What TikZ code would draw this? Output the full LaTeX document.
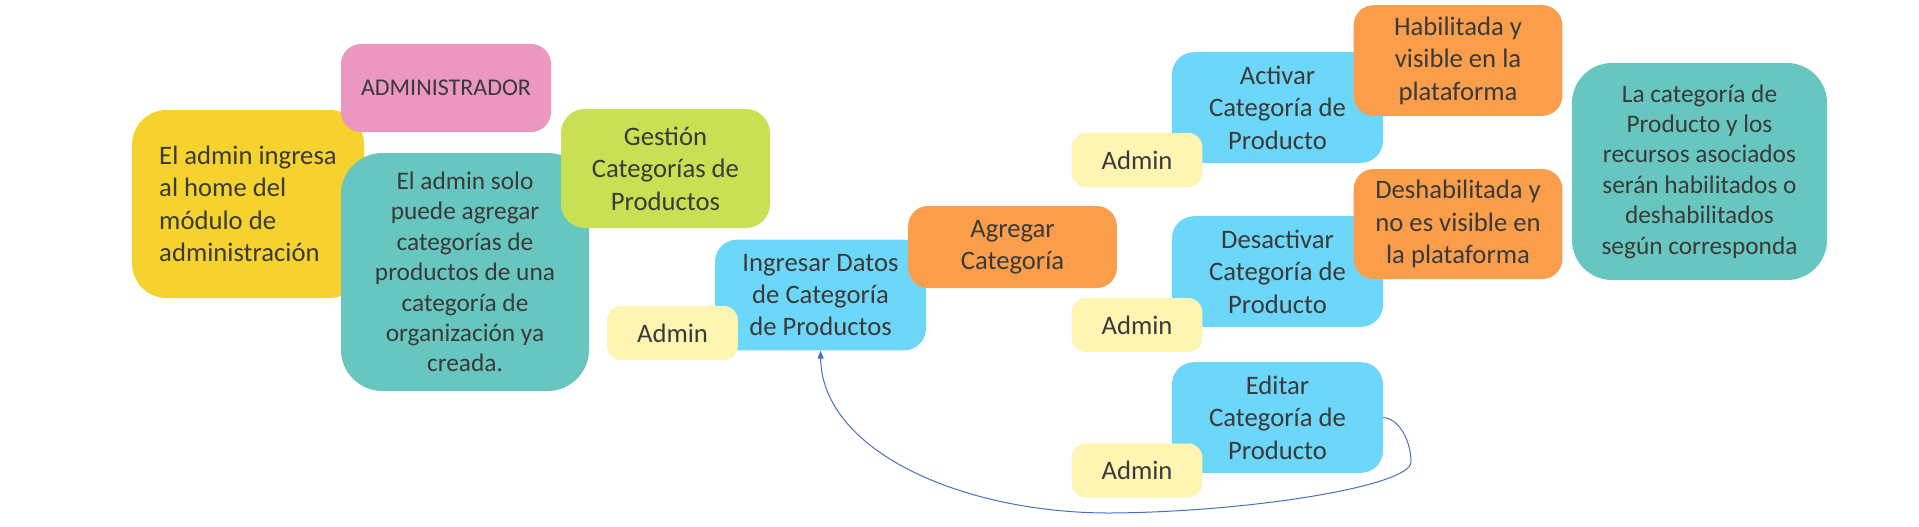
\documentclass[tikz,border=0pt]{standalone}
\usepackage{fontspec}
\setmainfont{Carlito}
\usetikzlibrary{arrows.meta}
\definecolor{yellowc}{HTML}{F5D22E}
\definecolor{pinkc}{HTML}{EB97C0}
\definecolor{tealc}{HTML}{67C6BF}
\definecolor{greenc}{HTML}{C9E055}
\definecolor{bluec}{HTML}{6DD7F9}
\definecolor{orangec}{HTML}{FB9E4B}
\definecolor{adminc}{HTML}{FDF5B1}
\definecolor{textc}{HTML}{3A3A3A}
\definecolor{linec}{HTML}{4A6EBD}
\tikzset{
  box/.style={rectangle, draw=none, inner sep=0pt, align=center, text=textc,
    font=\fontsize{20}{24.3}\selectfont},
  yellowbox/.style={box, fill=yellowc, rounded corners=26pt, minimum width=174pt, minimum height=141pt,
    align=left},
  pinkbox/.style={box, fill=pinkc, rounded corners=15pt, minimum width=157.5pt, minimum height=66pt,
    font=\fontsize{18}{21.6}\selectfont},
  tealbox/.style={box, fill=tealc, rounded corners=31pt, font=\fontsize{19}{22.8}\selectfont},
  greenbox/.style={box, fill=greenc, rounded corners=18pt, minimum width=156.75pt, minimum height=89.25pt},
  bluebox/.style={box, fill=bluec, rounded corners=16.5pt, minimum width=158.25pt, minimum height=83pt},
  orangebox/.style={box, fill=orangec, rounded corners=15pt, minimum width=156.5pt},
  adminbox/.style={box, fill=adminc, rounded corners=10.5pt, minimum width=98pt, minimum height=40.5pt},
  conn/.style={draw=linec, line width=0.75pt, -{Triangle[length=6pt,width=4.5pt]}}
}
\begin{document}
\begin{tikzpicture}[x=0.75pt,y=-0.75pt]
\useasboundingbox (0,0) rectangle (1919,526);
% left group
\node[yellowbox] (ingresa) at (248,204) {El admin ingresa\\al home del\\módulo de\\administración};
\node[pinkbox] (administrador) at (446,88) {ADMINISTRADOR};
\node[tealbox, minimum width=186pt, minimum height=178.5pt] (solo) at (465,272)
  {El admin solo\\puede agregar\\categorías de\\productos de una\\categoría de\\organización ya\\creada.};
\node[greenbox] (gestion) at (665.5,168.5) {Gestión\\Categorías de\\Productos};
% agregar
\node[bluebox] (ing) at (820.5,295) {Ingresar Datos\\de Categoría\\de Productos};
\node[adminbox] (admin1) at (672.5,333) {Admin};
\node[orangebox, minimum height=61.5pt] (agregar) at (1012.5,247) {Agregar\\Categoría};
% activar
\node[bluebox] (activar) at (1277.5,107.5) {Activar\\Categoría de\\Producto};
\node[adminbox] (admin2) at (1137,160) {Admin};
\node[orangebox, minimum height=83pt] (habil) at (1458,60.5) {Habilitada y\\visible en la\\plataforma};
% desactivar
\node[bluebox] (desact) at (1277.5,271.5) {Desactivar\\Categoría de\\Producto};
\node[adminbox] (admin3) at (1137,325) {Admin};
\node[orangebox, minimum height=82.5pt] (deshab) at (1458,224) {Deshabilitada y\\no es visible en\\la plataforma};
% editar
\node[bluebox] (edit) at (1277.5,417.5) {Editar\\Categoría de\\Producto};
\node[adminbox] (admin4) at (1137,470.5) {Admin};
% right note
\node[tealbox, rounded corners=30pt, minimum width=191.25pt, minimum height=162.75pt] (nota) at (1699.5,171.5)
  {La categoría de\\Producto y los\\recursos asociados\\serán habilitados o\\deshabilitados\\según corresponda};
% connector
\draw[conn] (edit.east) .. controls (1400,419) and (1411,442) .. (1411,462)
  .. controls (1411,486) and (1250,512) .. (1110,513)
  .. controls (960,513) and (822,450) .. (ing.south);
\end{tikzpicture}
\end{document}
